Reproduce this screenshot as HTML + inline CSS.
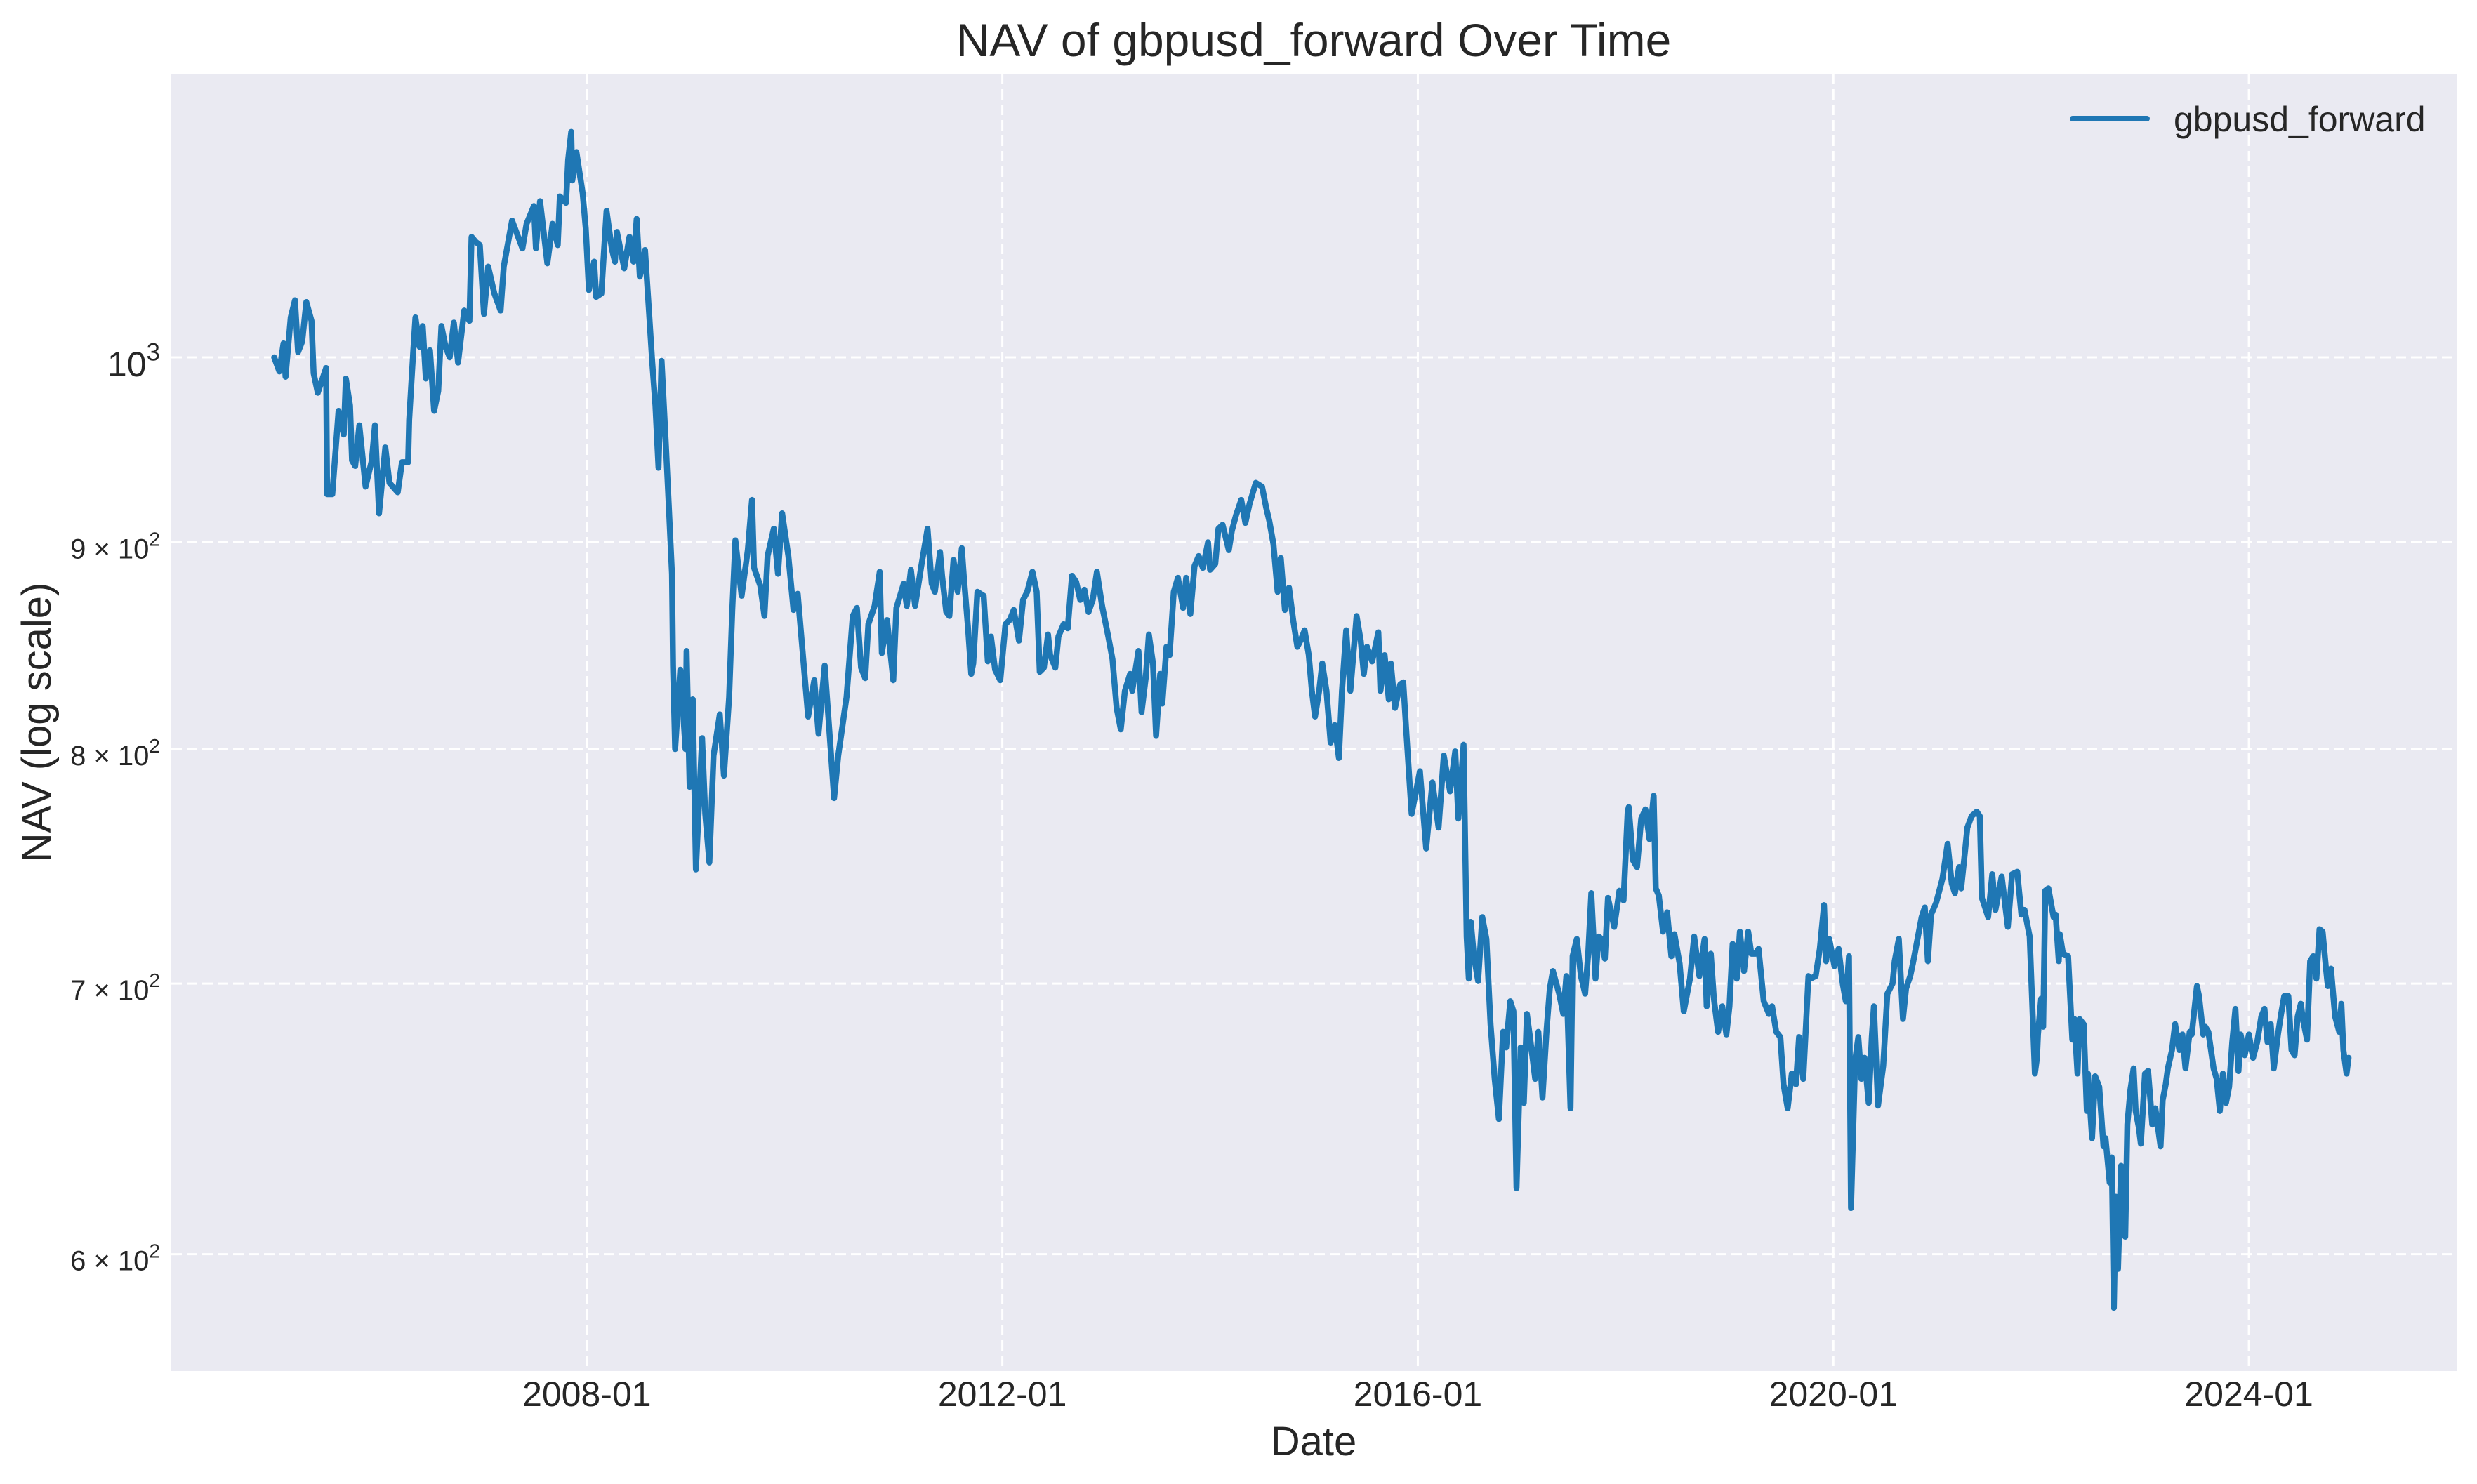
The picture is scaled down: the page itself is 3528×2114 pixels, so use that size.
<!DOCTYPE html>
<html><head><meta charset="utf-8"><style>
html,body{margin:0;padding:0;background:#fff;}
svg{display:block;font-family:"Liberation Sans",Arial,sans-serif;}
</style></head><body>
<svg id="chart" width="3528" height="2114" viewBox="0 0 3528 2114" xmlns="http://www.w3.org/2000/svg">
<rect x="0" y="0" width="3528" height="2114" fill="#ffffff"/>
<rect x="244" y="105" width="3255" height="1848" fill="#EAEAF2"/>
<g id="grid"></g>
<g id="ticks"></g>
<path id="series" fill="none" stroke="#1f77b4" stroke-width="8.5" stroke-linejoin="round" stroke-linecap="round"/>
<text x="1871" y="80" font-size="66" text-anchor="middle" fill="#262626">NAV of gbpusd_forward Over Time</text>
<text x="1871" y="2073" font-size="58" text-anchor="middle" fill="#262626">Date</text>
<text x="72" y="1029" font-size="58" text-anchor="middle" fill="#262626" transform="rotate(-90 72 1029)">NAV (log scale)</text>
<g>
<line x1="2952" y1="169" x2="3058" y2="169" stroke="#1f77b4" stroke-width="8" stroke-linecap="round"/>
<text x="3096" y="187" font-size="50" fill="#262626">gbpusd_forward</text>
</g>
</svg>
<script>
const dates=[2004.99,2005.04,2005.08,2005.10,2005.15,2005.19,2005.22,2005.26,2005.30,2005.35,2005.37,2005.41,2005.49,2005.50,2005.55,2005.61,2005.66,2005.68,2005.72,2005.74,2005.77,2005.81,2005.87,2005.93,2005.96,2006.00,2006.06,2006.10,2006.18,2006.22,2006.28,2006.29,2006.33,2006.35,2006.39,2006.42,2006.45,2006.49,2006.53,2006.57,2006.60,2006.64,2006.68,2006.72,2006.76,2006.82,2006.87,2006.89,2006.93,2006.97,2007.01,2007.05,2007.11,2007.17,2007.20,2007.28,2007.38,2007.42,2007.49,2007.51,2007.55,2007.62,2007.67,2007.72,2007.74,2007.80,2007.82,2007.85,2007.86,2007.90,2007.96,2007.99,2008.02,2008.07,2008.09,2008.14,2008.19,2008.24,2008.27,2008.29,2008.36,2008.41,2008.45,2008.48,2008.51,2008.56,2008.60,2008.63,2008.66,2008.69,2008.72,2008.76,2008.79,2008.82,2008.83,2008.85,2008.90,2008.95,2008.96,2008.99,2009.02,2009.05,2009.11,2009.14,2009.18,2009.22,2009.28,2009.32,2009.37,2009.40,2009.43,2009.49,2009.55,2009.59,2009.61,2009.67,2009.71,2009.74,2009.80,2009.84,2009.88,2009.94,2009.99,2010.03,2010.07,2010.13,2010.19,2010.23,2010.29,2010.34,2010.38,2010.42,2010.50,2010.56,2010.60,2010.64,2010.68,2010.71,2010.77,
2010.82,2010.84,2010.89,2010.95,2010.98,2011.05,2011.08,2011.12,2011.16,2011.22,2011.28,2011.32,2011.35,2011.40,2011.42,2011.46,2011.49,2011.53,2011.57,2011.61,2011.63,2011.67,2011.70,2011.72,2011.76,2011.82,2011.86,2011.89,2011.93,2011.98,2012.03,2012.07,2012.11,2012.16,2012.20,2012.24,2012.29,2012.33,2012.36,2012.40,2012.44,2012.46,2012.51,2012.54,2012.59,2012.63,2012.67,2012.71,2012.75,2012.79,2012.83,2012.87,2012.91,2012.96,2013.02,2013.06,2013.10,2013.14,2013.18,2013.23,2013.25,2013.31,2013.34,2013.38,2013.41,2013.45,2013.48,2013.52,2013.54,2013.58,2013.61,2013.65,2013.69,2013.74,2013.77,2013.81,2013.85,2013.89,2013.93,2013.98,2014.00,2014.05,2014.08,2014.12,2014.18,2014.21,2014.25,2014.30,2014.34,2014.38,2014.44,2014.50,2014.54,2014.57,2014.61,2014.65,2014.68,2014.72,2014.76,2014.80,2014.84,2014.87,2014.91,2014.95,2014.98,2015.01,2015.05,2015.08,2015.12,2015.16,2015.20,2015.24,2015.27,2015.31,2015.35,2015.41,2015.45,2015.48,2015.51,2015.56,2015.62,2015.64,2015.68,2015.72,2015.74,2015.78,2015.83,2015.86,
2015.89,2015.94,2016.02,2016.08,2016.14,2016.20,2016.25,2016.31,2016.36,2016.39,2016.44,2016.47,2016.49,2016.51,2016.54,2016.58,2016.62,2016.66,2016.70,2016.74,2016.78,2016.82,2016.85,2016.89,2016.92,2016.95,2016.99,2017.02,2017.05,2017.08,2017.13,2017.16,2017.20,2017.24,2017.27,2017.30,2017.36,2017.40,2017.43,2017.47,2017.49,2017.53,2017.57,2017.61,2017.64,2017.67,2017.71,2017.74,2017.77,2017.80,2017.83,2017.89,2017.94,2017.98,2018.02,2018.03,2018.07,2018.11,2018.15,2018.19,2018.23,2018.27,2018.29,2018.32,2018.36,2018.40,2018.44,2018.47,2018.52,2018.56,2018.62,2018.66,2018.71,2018.76,2018.78,2018.82,2018.85,2018.89,2018.93,2018.97,2019.00,2019.03,2019.07,2019.10,2019.14,2019.18,2019.21,2019.25,2019.28,2019.33,2019.38,2019.41,2019.45,2019.49,2019.52,2019.56,2019.60,2019.64,2019.67,2019.71,2019.76,2019.78,2019.83,2019.87,2019.91,2019.93,2019.96,2020.01,2020.05,2020.09,2020.12,2020.15,2020.17,2020.21,2020.24,2020.27,2020.30,2020.34,2020.37,2020.39,2020.43,2020.48,2020.52,2020.57,2020.59,2020.63,2020.67,2020.70,2020.74,2020.77,2020.81,2020.85,2020.88,2020.91,
2020.94,2020.99,2021.05,2021.10,2021.14,2021.17,2021.21,2021.23,2021.27,2021.29,2021.33,2021.38,2021.41,2021.43,2021.46,2021.49,2021.53,2021.56,2021.62,2021.68,2021.72,2021.77,2021.81,2021.84,2021.89,2021.94,2021.96,2021.97,2022.00,2022.02,2022.04,2022.07,2022.12,2022.14,2022.17,2022.18,2022.21,2022.26,2022.30,2022.32,2022.35,2022.37,2022.41,2022.44,2022.45,2022.49,2022.52,2022.56,2022.60,2022.62,2022.66,2022.68,2022.70,2022.72,2022.74,2022.77,2022.81,2022.83,2022.86,2022.89,2022.91,2022.94,2022.96,2023.00,2023.03,2023.07,2023.10,2023.15,2023.17,2023.20,2023.22,2023.26,2023.29,2023.33,2023.36,2023.39,2023.43,2023.45,2023.50,2023.52,2023.56,2023.58,2023.61,2023.66,2023.69,2023.72,2023.75,2023.78,2023.81,2023.84,2023.87,2023.90,2023.92,2023.96,2024.00,2024.04,2024.08,2024.12,2024.15,2024.18,2024.21,2024.24,2024.28,2024.31,2024.34,2024.38,2024.41,2024.44,2024.47,2024.50,2024.52,2024.56,2024.59,2024.62,2024.65,2024.68,2024.71,2024.74,2024.76,2024.79,2024.83,2024.87,2024.89,2024.91,2024.94,2024.96,2025.00];
const navValues=[1000,992,1008,989,1023,1033,1003,1009,1032,1021,991,980,994,925,925,970,957,988,973,943,940,962,929,943,962,915,950,931,926,942,942,965,1004,1023,1006,1018,988,1004,970,981,1018,1006,1000,1020,997,1027,1021,1071,1068,1066,1025,1053,1037,1027,1053,1081,1064,1079,1090,1064,1093,1055,1079,1066,1096,1092,1119,1137,1106,1124,1098,1076,1039,1056,1035,1037,1087,1064,1056,1074,1052,1071,1056,1082,1047,1063,1025,997,973,939,998,952,918,884,839,800,837,800,846,783,823,747,805,771,750,797,816,788,824,866,901,873,896,922,887,878,863,893,907,884,915,893,866,874,850,815,832,807,839,805,778,797,824,863,867,838,833,859,868,
885,845,861,832,867,879,868,886,868,888,907,879,875,895,883,865,863,891,875,897,882,857,835,840,875,873,841,853,837,832,859,861,866,851,871,875,885,875,836,838,854,844,838,853,859,857,883,880,871,876,865,871,885,868,853,842,819,809,827,835,827,846,817,833,854,840,806,835,821,848,844,875,882,867,882,864,888,893,887,900,886,889,907,909,896,906,914,922,910,920,931,929,918,911,899,875,892,866,877,861,848,851,856,844,827,815,827,840,827,803,811,796,827,856,827,863,851,835,848,841,855,827,844,823,840,819,830,
831,807,771,790,756,785,765,797,781,799,769,802,719,702,725,711,701,727,718,684,663,648,681,675,693,689,623,675,654,688,679,663,681,656,682,698,705,696,688,703,652,711,718,703,696,712,737,702,719,718,710,735,723,738,734,772,774,751,748,769,773,760,779,739,736,721,729,711,720,708,689,702,719,703,718,691,712,694,681,691,680,691,716,702,721,705,721,712,712,714,693,688,691,681,679,661,652,665,661,679,663,703,702,703,714,732,709,718,707,714,700,693,711,616,670,679,663,671,654,679,691,653,668,696,700,709,718,686,698,703,709,718,727,731,
709,728,733,743,758,741,737,748,739,756,765,770,772,770,735,731,727,745,730,744,723,745,746,728,730,719,665,671,680,694,683,738,739,727,728,709,720,712,711,678,686,665,686,684,651,665,641,664,660,638,641,625,634,582,620,595,631,606,646,659,667,651,645,639,665,666,646,652,638,655,661,667,674,684,674,680,667,681,680,699,695,680,683,681,667,663,651,665,654,660,677,690,666,680,672,680,671,677,687,690,677,684,667,680,688,695,695,674,672,687,692,686,678,709,711,702,722,721,707,699,706,687,681,692,674,665,671];
const xTickYears=[2008,2012,2016,2020,2024];
const xTickLabels=["2008-01","2012-01","2016-01","2020-01","2024-01"];
const yTickValues=[1000,900,800,700,600];
const yTickMantissa=["10","9 \u00d7 10","8 \u00d7 10","7 \u00d7 10","6 \u00d7 10"];
const yTickExponent=["3","2","2","2","2"];

const PL=244,PR=3499,PT=105,PB=1953;
const X0=2004.0,X1=2026.0;
const Y0=561.4,Y1=1175.3;
const NS='http://www.w3.org/2000/svg';
function xs(t){return PL+(t-X0)/(X1-X0)*(PR-PL);}
function ys(v){return PB-(Math.log10(v)-Math.log10(Y0))/(Math.log10(Y1)-Math.log10(Y0))*(PB-PT);}

const grid=document.getElementById('grid');
const ticks=document.getElementById('ticks');
xTickYears.forEach((yr,i)=>{
  const x=xs(yr);
  const l=document.createElementNS(NS,'line');
  l.setAttribute('x1',x);l.setAttribute('x2',x);l.setAttribute('y1',PT);l.setAttribute('y2',PB);
  l.setAttribute('stroke','#ffffff');l.setAttribute('stroke-width','3');l.setAttribute('stroke-dasharray','15 7');
  
  
  grid.appendChild(l);
  const t=document.createElementNS(NS,'text');
  t.setAttribute('x',x);t.setAttribute('y',2003);t.setAttribute('font-size','50');
  t.setAttribute('text-anchor','middle');t.setAttribute('fill','#262626');
  t.textContent=xTickLabels[i];
  
  
  ticks.appendChild(t);
});
yTickValues.forEach((v,i)=>{
  const y=ys(v);
  const l=document.createElementNS(NS,'line');
  l.setAttribute('x1',PL);l.setAttribute('x2',PR);l.setAttribute('y1',y);l.setAttribute('y2',y);
  l.setAttribute('stroke','#ffffff');l.setAttribute('stroke-width','3');l.setAttribute('stroke-dasharray','15 7');
  
  
  grid.appendChild(l);
  const major=(i===0);
  const fs=major?50:40;
  const t=document.createElementNS(NS,'text');
  t.setAttribute('x',228);t.setAttribute('y',y+(major?27:23));t.setAttribute('font-size',fs);
  t.setAttribute('text-anchor','end');t.setAttribute('fill','#262626');
  const a=document.createElementNS(NS,'tspan');a.textContent=yTickMantissa[i];
  const b=document.createElementNS(NS,'tspan');b.textContent=yTickExponent[i];
  b.setAttribute('font-size',Math.round(fs*0.7));b.setAttribute('dy',-fs*0.45);
  t.appendChild(a);t.appendChild(b);
  
  
  ticks.appendChild(t);
});
let d='';
dates.forEach((t,i)=>{d+=(i?'L':'M')+xs(t).toFixed(1)+' '+ys(navValues[i]).toFixed(1);});
document.getElementById('series').setAttribute('d',d);
</script>
</body></html>
